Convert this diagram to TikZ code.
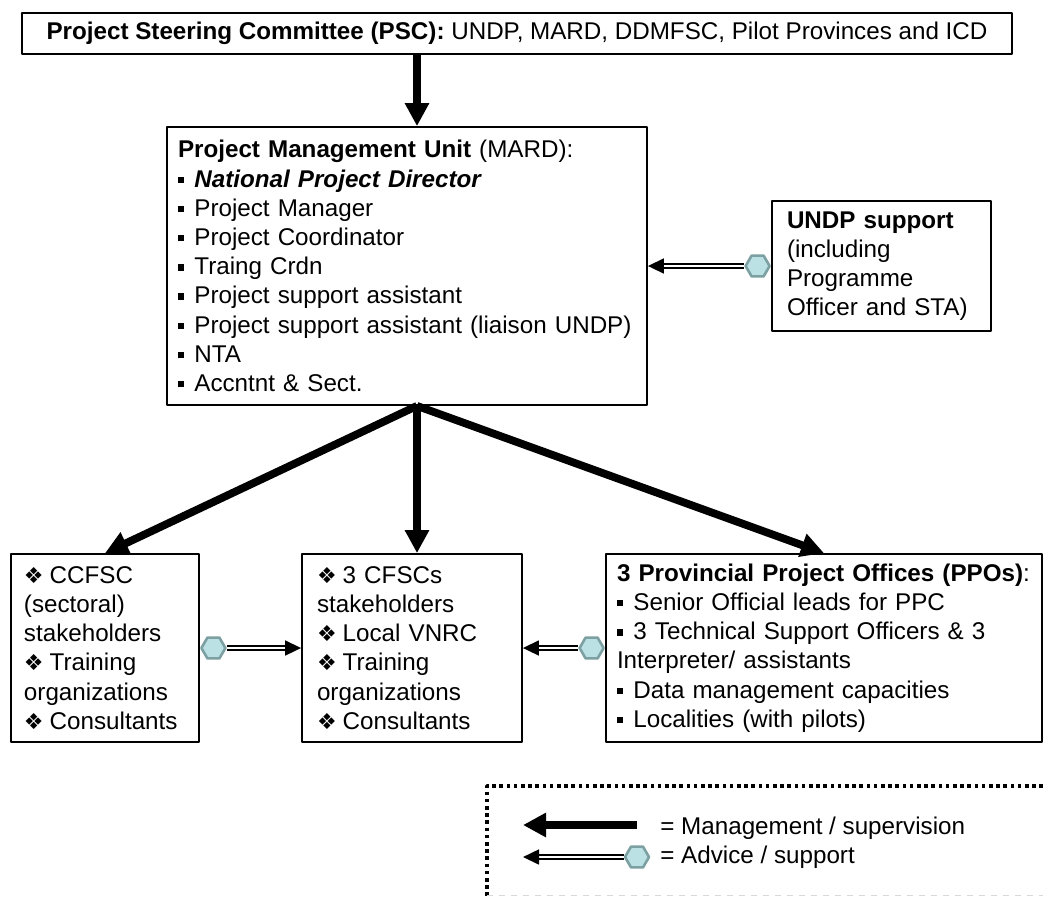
\documentclass[tikz,border=0pt]{standalone}
\usepackage{fontspec}
\setmainfont{Liberation Sans}
\newfontfamily\symfont{DejaVu Sans}
\usepackage{tikz}
\usetikzlibrary{arrows.meta, calc, positioning, shapes.geometric}
\definecolor{hexfill}{RGB}{188, 225, 228}
\definecolor{hexline}{RGB}{125, 160, 162}
\newcommand{\sqb}{\rule[2pt]{3.2pt}{3.2pt}\hspace{5pt}}
\newcommand{\dmd}{{\symfont\fontsize{11pt}{11pt}\selectfont ❖}\hspace{3pt}}

\begin{document}
\begin{tikzpicture}[x=0.5pt, y=-0.5pt, line join=round,
		box/.style={draw, line width=0.9pt, align=left, inner ysep=0pt, font=\fontsize{12.1pt}{14.6pt}\selectfont},
		mgmt/.style={line width=3.9pt, -{Triangle[length=11.5pt,width=11.5pt]}},
		advice/.style={double=white, double distance=1.1pt, line width=0.8pt, -{Triangle[length=8pt,width=7.5pt]}},
		hexa/.style={regular polygon, regular polygon sides=6, minimum size=12pt, inner sep=0pt, fill=hexfill, draw=hexline, line width=1.3pt},
		legtext/.style={inner sep=0pt, font=\fontsize{12.1pt}{14.6pt}\selectfont}]
		\useasboundingbox (0,0) rectangle (1043,896);

		% committee and unit
		\node [box, minimum width=495pt, minimum height=20.5pt] (psc) at (517,33.5) {\textbf{Project Steering Committee (PSC):} UNDP, MARD, DDMFSC, Pilot Provinces and ICD};
		\node [box, text width=229pt, inner xsep=5.5pt, minimum height=139pt] (pmu) at (407,266) {\textbf{Project Management Unit} (MARD):\\
			\sqb\textbf{\textit{National Project Director}}\\
			\sqb Project Manager\\
			\sqb Project Coordinator\\
			\sqb Traing Crdn\\
			\sqb Project support assistant\\
			\sqb Project support assistant (liaison UNDP)\\
			\sqb NTA\\
			\sqb Accntnt \& Sect.};
		\node [box, text width=94.5pt, inner xsep=7.5pt, minimum height=65pt] (undp) at (881.5,266) {\textbf{UNDP support}\\(including\\Programme\\Officer and STA)};

		% bottom row
		\node [box, text width=81pt, inner xsep=6.5pt, minimum height=94pt] (ccfsc) at (105,648) {\dmd CCFSC\\(sectoral)\\stakeholders\\\dmd Training\\organizations\\\dmd Consultants};
		\node [box, text width=95pt, inner xsep=7.5pt, minimum height=94pt] (cfsc) at (412,648) {\dmd 3 CFSCs\\stakeholders\\\dmd Local VNRC\\\dmd Training\\organizations\\\dmd Consultants};
		\node [box, text width=207pt, inner xsep=5.5pt, minimum height=94pt] (ppo) at (824,648) {\mbox{\textbf{3 Provincial Project Offices (PPOs)}:}\\
			\sqb Senior Official leads for PPC\\
			\sqb 3 Technical Support Officers \& 3\\
			Interpreter/ assistants\\
			\sqb Data management capacities\\
			\sqb Localities (with pilots)};

		\node [hexa, left=0pt of undp] (uhex) {};
		\node [hexa, right=0pt of ccfsc] (chex) {};
		\node [hexa, left=0pt of ppo] (phex) {};

		% management lines
		\coordinate (pmutop) at ($(pmu.north)+(10,0)$);
		\coordinate (pmubot) at ($(pmu.south)+(10,0)$);
		\draw [mgmt] (psc.south -| pmutop) -- (pmutop);
		\draw [mgmt] (pmubot) -- (ccfsc.north);
		\draw [mgmt] (pmubot) -- (pmubot |- cfsc.north);
		\draw [mgmt] (pmubot) -- (ppo.north);

		% advice lines
		\draw [advice] (uhex) -- (uhex -| pmu.east);
		\draw [advice] (chex) -- (chex -| cfsc.west);
		\draw [advice] (phex) -- (phex -| cfsc.east);

		% legend
		\draw [line width=1.8pt, dash pattern=on 1.8pt off 1.8pt] (1043,786) -- (487,786) -- (487,896);
		\draw [gray!30, dashed, line width=0.5pt] (487,895) -- (1043,895);
		\coordinate (mgtail) at (637,825);
		\coordinate (mghead) at (523,825);
		\draw [mgmt, line width=4.3pt] (mgtail) -- (mghead);
		\node [hexa] (lhex) at (637,857) {};
		\coordinate (adhead) at (523,857);
		\draw [advice] (lhex) -- (adhead);
		\node [legtext, anchor=base west] (mgtext) at (660,834) {= Management / supervision};
		\node [legtext, anchor=base west] (adtext) at (660,863) {= Advice / support};
\end{tikzpicture}
\end{document}
